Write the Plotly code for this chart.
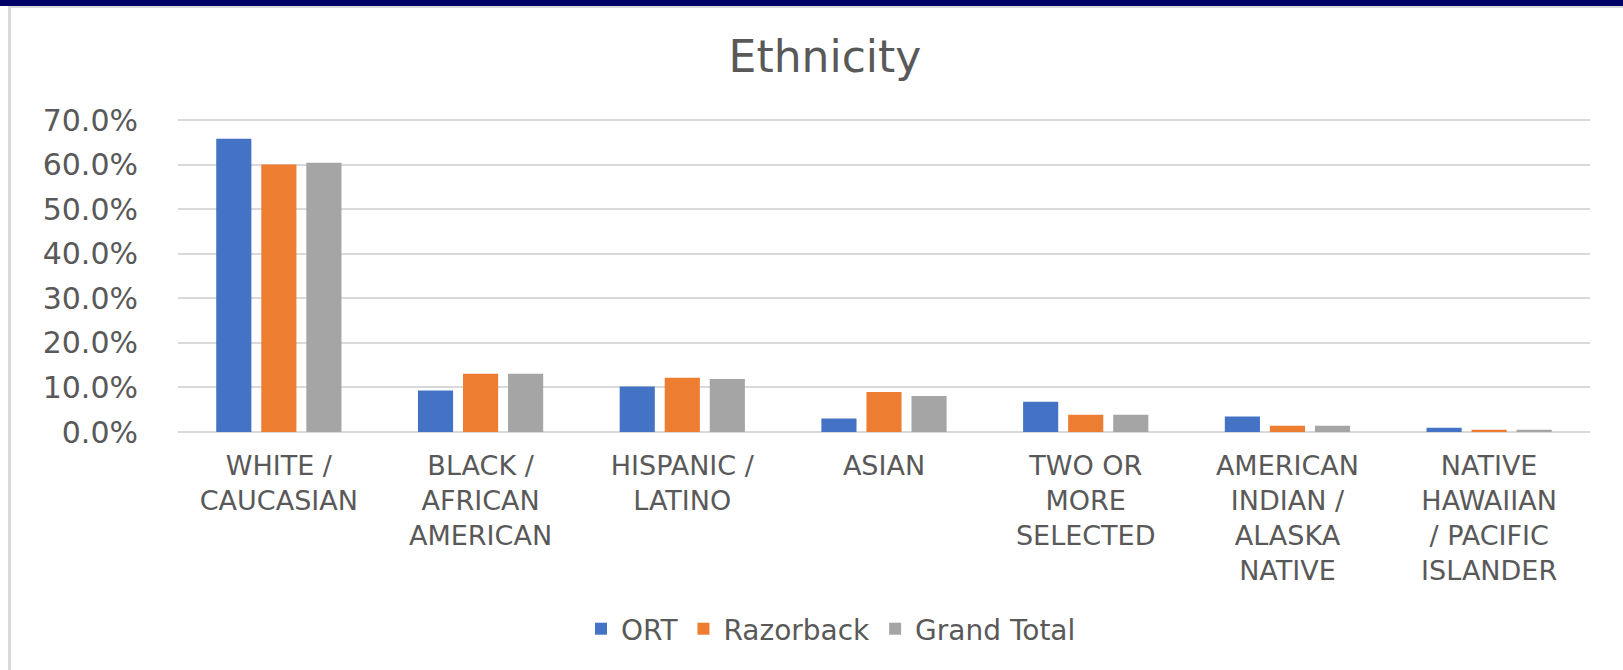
import plotly.graph_objects as go

# categories (x axis) and the three series, in percent
categories = [
    "WHITE /<br>CAUCASIAN",
    "BLACK /<br>AFRICAN<br>AMERICAN",
    "HISPANIC /<br>LATINO",
    "ASIAN",
    "TWO OR<br>MORE<br>SELECTED",
    "AMERICAN<br>INDIAN /<br>ALASKA<br>NATIVE",
    "NATIVE<br>HAWAIIAN<br>/ PACIFIC<br>ISLANDER",
]
ort = [65.9, 9.3, 10.2, 3.05, 6.8, 3.5, 0.95]
razorback = [60.1, 13.1, 12.2, 9.0, 3.9, 1.4, 0.5]
grand_total = [60.5, 13.1, 11.9, 8.1, 3.9, 1.4, 0.5]

series_names = ["ORT", "Razorback", "Grand Total"]
series_colors = ["#4472C4", "#ED7D31", "#A5A5A5"]

# page size and plot margins (px)
W, H = 1623, 670
ML, MR, MT, MB = 178, 33, 116, 238
PW = W - ML - MR
PH = H - MT - MB


def px(x):
    return (x - ML) / PW


def py(y):
    return (H - MB - y) / PH


FONT = "DejaVu Sans"
TXT = "#595959"
GRID = "#D9D9D9"

fig = go.Figure()
for name, vals, color in zip(series_names, [ort, razorback, grand_total], series_colors):
    fig.add_trace(go.Bar(x=categories, y=vals, name=name, marker_color=color,
                         marker_line_width=0))

# frame: navy bar on top, thin grey lines
shapes = [
    dict(type="rect", xref="paper", yref="paper", x0=px(0), x1=px(W), y0=py(6), y1=py(0),
         fillcolor="#000066", line_width=0),
    dict(type="rect", xref="paper", yref="paper", x0=px(8), x1=px(W), y0=py(8), y1=py(6),
         fillcolor=GRID, line_width=0),
    dict(type="rect", xref="paper", yref="paper", x0=px(8), x1=px(11), y0=py(H), y1=py(7),
         fillcolor=GRID, line_width=0),
]

fig.update_layout(
    width=W, height=H,
    margin=dict(l=ML, r=MR, t=MT, b=MB),
    paper_bgcolor="white", plot_bgcolor="white",
    barmode="group", bargap=0.33, bargroupgap=0.22,
    title=dict(text="Ethnicity", x=825 / W, xanchor="center", y=1 - 57 / H,
               yanchor="middle", yref="container",
               font=dict(family=FONT, size=44, color=TXT)),
    legend=dict(orientation="h", x=px(831), xanchor="center", y=py(629), yanchor="middle",
                font=dict(family=FONT, size=28, color=TXT), itemclick=False),
    shapes=shapes,
    showlegend=True,
)
fig.update_yaxes(range=[0, 71], dtick=10, tickformat=".1f", ticksuffix="%",
                 gridcolor=GRID, gridwidth=1.5, zeroline=True, zerolinecolor=GRID,
                 zerolinewidth=2, showline=False, ticklabelstandoff=39,
                 tickfont=dict(family=FONT, size=30, color=TXT))
fig.update_xaxes(showline=False, ticks="", ticklabelstandoff=15,
                 tickfont=dict(family=FONT, size=27, color=TXT))

# the default page has an 8px body margin; drop it so the chart sits at 0,0
fig.write_html("out.html", config={"displayModeBar": False},
               post_script="document.body.style.margin = '0';")
